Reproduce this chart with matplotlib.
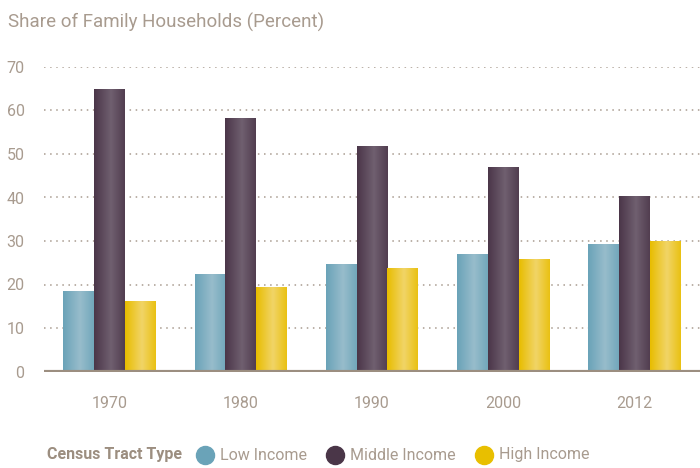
import numpy as np
import matplotlib.pyplot as plt
from matplotlib.colors import LinearSegmentedColormap
from matplotlib.lines import Line2D

years = ['1970', '1980', '1990', '2000', '2012']
series = ['Low Income', 'Middle Income', 'High Income']
low_income = [18.6, 22.3, 24.6, 27.1, 29.4]
middle_income = [65.0, 58.3, 51.8, 47.1, 40.4]
high_income = [16.3, 19.4, 23.7, 25.8, 29.9]

# edge / centre colours for the cylinder look
edge_cols = ['#6aa3b8', '#4b3649', '#e8bd00']
mid_cols = ['#97bccb', '#6f5f6f', '#f1d466']
legend_cols = ['#6aa3b8', '#4a3648', '#e8bf00']
txt = '#a89b8f'

plt.rcParams['font.family'] = ['Roboto', 'DejaVu Sans']

fig = plt.figure(figsize=(7, 4.68), dpi=100)
ax = fig.add_axes([44/700, (468-371.5)/468, 1-44/700, (371.5-67)/468])

x = np.arange(len(years))
w = 0.235
grad = np.linspace(0, 1, 64)
grad = 1 - np.abs(grad - 0.55) / 0.55
grad = np.clip(grad, 0, 1).reshape(1, -1)

for i, vals in enumerate([low_income, middle_income, high_income]):
    bars = ax.bar(x + (i - 1) * w, vals, w, color=edge_cols[i], zorder=3)
    cmap = LinearSegmentedColormap.from_list('g%d' % i, [edge_cols[i], mid_cols[i]])
    for b in bars:
        x0, y0 = b.get_x(), b.get_y()
        im = ax.imshow(grad, cmap=cmap, aspect='auto', zorder=4,
                       extent=[x0, x0 + b.get_width(), y0, y0 + b.get_height()],
                       interpolation='bilinear')
        im.set_clip_path(b)

ax.set_xlim(-0.5, 4.5)
ax.set_ylim(0, 70)
ax.set_yticks(range(0, 71, 10))
ax.yaxis.grid(True, linestyle=(0, (1, 3)), color=txt, linewidth=1.1, zorder=0)
ax.set_axisbelow(True)
ax.axhline(0, color='#9c8e80', linewidth=3, zorder=5)
for s in ax.spines.values():
    s.set_visible(False)
ax.tick_params(length=0, colors=txt, labelsize=11.5)
ax.tick_params(axis='y', pad=14)
ax.tick_params(axis='x', pad=18)
ax.set_xticks(x)
ax.set_xticklabels(years)

fig.text(8/700, 1 - 22/468, 'Share of Family Households (Percent)', color=txt,
         fontsize=13.5, va='center', ha='left')

# legend row along the bottom, laid out left to right
ly = 13/468
renderer = fig.canvas.get_renderer()
t = fig.text(47/700, ly, 'Census Tract Type', color='#9c8e80', fontsize=11.5,
             fontweight='bold', va='center', ha='left')
xpos = t.get_window_extent(renderer).x1 + 23
for name, c in zip(series, legend_cols):
    fig.add_artist(Line2D([xpos/700], [ly], marker='o', linestyle='', markersize=13,
                          markerfacecolor=c, markeredgecolor=c,
                          transform=fig.transFigure))
    t = fig.text((xpos + 15)/700, ly, name, color=txt, fontsize=11.5,
                 va='center', ha='left')
    xpos = t.get_window_extent(renderer).x1 + 28

fig.savefig('out.png', dpi=100)
